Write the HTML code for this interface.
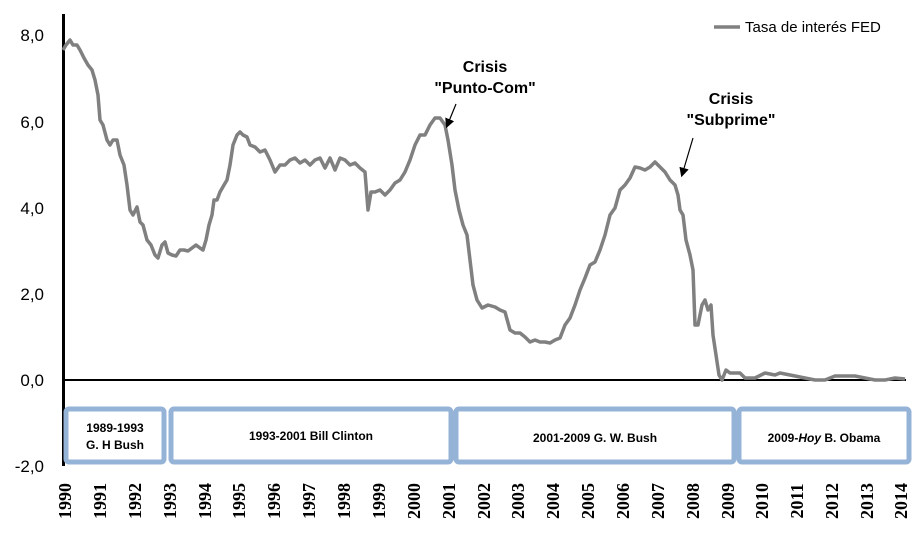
<!DOCTYPE html>
<html><head><meta charset="utf-8"><style>body{margin:0;background:#fff}</style></head><body>
<svg width="920" height="546" viewBox="0 0 920 546" xmlns="http://www.w3.org/2000/svg" style="display:block">
<defs><marker id="ah" markerWidth="8" markerHeight="8" refX="6" refY="4" orient="auto"><path d="M0,0 L8,4 L0,8 z" fill="#000"/></marker></defs>
<g font-family="Liberation Sans, sans-serif" font-size="17" fill="#000" text-anchor="end">
<text x="44" y="41">8,0</text><text x="44" y="128">6,0</text><text x="44" y="214">4,0</text><text x="44" y="300">2,0</text><text x="44" y="386">0,0</text><text x="44" y="472">-2,0</text>
</g>
<line x1="63.5" y1="14" x2="63.5" y2="466" stroke="#000" stroke-width="3"/>
<line x1="63" y1="380" x2="906" y2="380" stroke="#000" stroke-width="2"/>
<g fill="#fff" stroke="#95b3d7" stroke-width="5">
<rect x="66" y="409" width="98" height="53" rx="3"/>
<rect x="171" y="409" width="280" height="53" rx="3"/>
<rect x="456" y="409" width="278" height="53" rx="3"/>
<rect x="739" y="409" width="170" height="53" rx="3"/>
</g>
<g font-family="Liberation Sans, sans-serif" font-size="12" font-weight="bold" text-anchor="middle" fill="#000">
<text x="115" y="432">1989-1993</text><text x="115" y="449">G. H Bush</text>
<text x="311" y="440">1993-2001  Bill Clinton</text>
<text x="595" y="442">2001-2009  G. W. Bush</text>
<text x="824" y="442">2009-<tspan font-style="italic">Hoy</tspan> B. Obama</text>
</g>
<g font-family="Liberation Serif, serif" font-size="18" font-weight="bold" fill="#000" text-anchor="middle">
<text transform="translate(71,501) rotate(-90)">1990</text><text transform="translate(106,501) rotate(-90)">1991</text><text transform="translate(141,501) rotate(-90)">1992</text><text transform="translate(176,501) rotate(-90)">1993</text><text transform="translate(211,501) rotate(-90)">1994</text><text transform="translate(245,501) rotate(-90)">1995</text><text transform="translate(280,501) rotate(-90)">1996</text><text transform="translate(315,501) rotate(-90)">1997</text><text transform="translate(350,501) rotate(-90)">1998</text><text transform="translate(385,501) rotate(-90)">1999</text><text transform="translate(420,501) rotate(-90)">2000</text><text transform="translate(455,501) rotate(-90)">2001</text><text transform="translate(490,501) rotate(-90)">2002</text><text transform="translate(524,501) rotate(-90)">2003</text><text transform="translate(559,501) rotate(-90)">2004</text><text transform="translate(594,501) rotate(-90)">2005</text><text transform="translate(629,501) rotate(-90)">2006</text><text transform="translate(664,501) rotate(-90)">2007</text><text transform="translate(699,501) rotate(-90)">2008</text><text transform="translate(734,501) rotate(-90)">2009</text><text transform="translate(768,501) rotate(-90)">2010</text><text transform="translate(803,501) rotate(-90)">2011</text><text transform="translate(838,501) rotate(-90)">2012</text><text transform="translate(873,501) rotate(-90)">2013</text><text transform="translate(907,501) rotate(-90)">2014</text>
</g>
<polyline fill="none" stroke="#808080" stroke-width="3.5" stroke-linejoin="round" points="63,50 66,45 70,40 73,45 77,45 80,50 84,58 88,65 92,70 95,80 98,95 100,120 103,125 107,140 110,145 113,140 117,140 120,155 124,165 127,185 130,210 133,215 137,207 140,222 143,225 147,240 151,245 155,255 158,258 162,245 165,242 168,253 172,255 176,256 180,250 184,250 188,251 192,248 196,245 200,248 203,250 206,240 209,225 212,215 214,200 217,200 220,192 224,185 227,180 230,165 233,145 237,135 240,132 243,135 247,137 250,145 255,147 260,152 265,150 270,160 275,172 280,165 285,165 290,160 295,158 300,163 305,160 310,165 315,160 320,158 325,168 330,158 335,170 340,158 345,160 350,165 355,163 360,168 365,172 368,210 371,192 375,192 380,190 385,195 390,190 395,183 400,180 405,172 410,160 415,145 420,135 425,135 430,125 435,118 440,118 445,125 448,140 452,165 455,190 459,210 463,225 467,235 470,260 473,285 477,300 482,308 488,305 495,307 500,310 505,312 510,330 515,333 520,333 525,337 530,342 535,340 540,342 545,342 550,343 555,340 560,338 565,325 570,318 575,305 580,290 585,278 590,265 595,262 600,250 605,235 610,215 615,208 620,190 625,185 630,178 635,167 640,168 645,170 650,167 655,162 660,167 665,172 670,180 675,185 678,195 680,210 683,215 686,240 690,255 693,270 695,325 698,325 702,305 705,300 708,310 711,305 713,335 716,355 719,375 722,380 726,370 730,373 740,373 745,378 755,378 765,373 775,375 780,373 790,375 800,377 815,380 825,380 835,376 845,376 855,376 865,378 875,380 885,380 895,378 905,379"/>
<line x1="714" y1="27" x2="740" y2="27" stroke="#808080" stroke-width="3.5"/>
<text x="745" y="32" font-family="Liberation Sans, sans-serif" font-size="15">Tasa de interés FED</text>
<g font-family="Liberation Sans, sans-serif" font-size="16" font-weight="bold" text-anchor="middle">
<text x="485" y="72">Crisis</text><text x="485" y="93">"Punto-Com"</text>
<text x="731" y="104">Crisis</text><text x="731" y="125">"Subprime"</text>
</g>
<line x1="456" y1="104" x2="447" y2="126" stroke="#000" stroke-width="1.2" marker-end="url(#ah)"/>
<line x1="693" y1="138" x2="682" y2="175" stroke="#000" stroke-width="1.2" marker-end="url(#ah)"/>
</svg>
</body></html>
